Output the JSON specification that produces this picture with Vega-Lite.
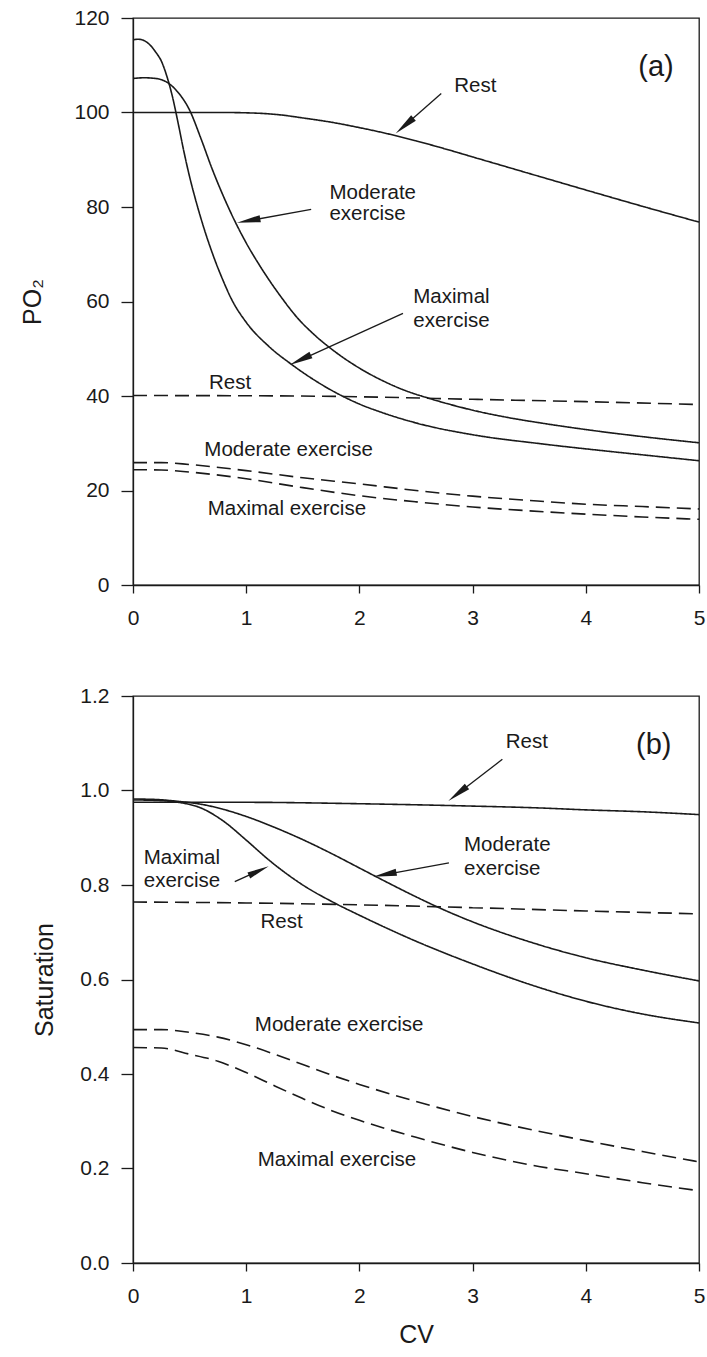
{
  "$schema": "https://vega.github.io/schema/vega-lite/v6.json",
  "background": "white",
  "padding": {"left": 20, "top": 6, "right": 4, "bottom": 4},
  "spacing": 55,
  "config": {
    "font": "Liberation Sans",
    "view": {"stroke": "#1a1a1a", "strokeWidth": 1.3},
    "axis": {
      "domainColor": "#1a1a1a", "tickColor": "#1a1a1a", "labelColor": "#1a1a1a", "titleColor": "#1a1a1a",
      "labelFontSize": 21, "titleFontSize": 25, "titleFontWeight": "normal", "grid": false,
      "domainWidth": 1.3, "tickWidth": 1.3, "labelFont": "Liberation Sans", "titleFont": "Liberation Sans"
    },
    "axisX": {"tickSize": 8, "labelPadding": 14, "labelFlush": false, "titlePadding": 16, "format": "d"},
    "axisY": {"tickSize": 12, "labelPadding": 12, "titlePadding": 22}
  },
  "datasets": {
    "po2": [
      {"cv": 0, "po2": 100, "condition": "Rest", "curve": "A"},
      {"cv": 0.8, "po2": 100, "condition": "Rest", "curve": "A"},
      {"cv": 1.1, "po2": 99.85, "condition": "Rest", "curve": "A"},
      {"cv": 1.3, "po2": 99.5, "condition": "Rest", "curve": "A"},
      {"cv": 1.5, "po2": 98.85, "condition": "Rest", "curve": "A"},
      {"cv": 1.75, "po2": 97.95, "condition": "Rest", "curve": "A"},
      {"cv": 2.0, "po2": 96.8, "condition": "Rest", "curve": "A"},
      {"cv": 2.25, "po2": 95.5, "condition": "Rest", "curve": "A"},
      {"cv": 2.5, "po2": 94.0, "condition": "Rest", "curve": "A"},
      {"cv": 2.75, "po2": 92.35, "condition": "Rest", "curve": "A"},
      {"cv": 3.0, "po2": 90.6, "condition": "Rest", "curve": "A"},
      {"cv": 3.5, "po2": 87.1, "condition": "Rest", "curve": "A"},
      {"cv": 4.0, "po2": 83.6, "condition": "Rest", "curve": "A"},
      {"cv": 4.5, "po2": 80.15, "condition": "Rest", "curve": "A"},
      {"cv": 5.0, "po2": 76.8, "condition": "Rest", "curve": "A"},

      {"cv": 0, "po2": 107.2, "condition": "Moderate exercise", "curve": "A"},
      {"cv": 0.1, "po2": 107.35, "condition": "Moderate exercise", "curve": "A"},
      {"cv": 0.2, "po2": 107.2, "condition": "Moderate exercise", "curve": "A"},
      {"cv": 0.3, "po2": 106.4, "condition": "Moderate exercise", "curve": "A"},
      {"cv": 0.4, "po2": 104.2, "condition": "Moderate exercise", "curve": "A"},
      {"cv": 0.5, "po2": 100.5, "condition": "Moderate exercise", "curve": "A"},
      {"cv": 0.6, "po2": 94.5, "condition": "Moderate exercise", "curve": "A"},
      {"cv": 0.7, "po2": 88.0, "condition": "Moderate exercise", "curve": "A"},
      {"cv": 0.8, "po2": 82.2, "condition": "Moderate exercise", "curve": "A"},
      {"cv": 0.9, "po2": 77.0, "condition": "Moderate exercise", "curve": "A"},
      {"cv": 1.0, "po2": 72.4, "condition": "Moderate exercise", "curve": "A"},
      {"cv": 1.13, "po2": 67.2, "condition": "Moderate exercise", "curve": "A"},
      {"cv": 1.31, "po2": 60.9, "condition": "Moderate exercise", "curve": "A"},
      {"cv": 1.45, "po2": 56.6, "condition": "Moderate exercise", "curve": "A"},
      {"cv": 1.6, "po2": 53.0, "condition": "Moderate exercise", "curve": "A"},
      {"cv": 1.8, "po2": 49.1, "condition": "Moderate exercise", "curve": "A"},
      {"cv": 2.0, "po2": 45.9, "condition": "Moderate exercise", "curve": "A"},
      {"cv": 2.2, "po2": 43.3, "condition": "Moderate exercise", "curve": "A"},
      {"cv": 2.4, "po2": 41.2, "condition": "Moderate exercise", "curve": "A"},
      {"cv": 2.63, "po2": 39.4, "condition": "Moderate exercise", "curve": "A"},
      {"cv": 3.0, "po2": 37.0, "condition": "Moderate exercise", "curve": "A"},
      {"cv": 3.3, "po2": 35.5, "condition": "Moderate exercise", "curve": "A"},
      {"cv": 3.6, "po2": 34.3, "condition": "Moderate exercise", "curve": "A"},
      {"cv": 4.0, "po2": 32.9, "condition": "Moderate exercise", "curve": "A"},
      {"cv": 4.5, "po2": 31.4, "condition": "Moderate exercise", "curve": "A"},
      {"cv": 5.0, "po2": 30.1, "condition": "Moderate exercise", "curve": "A"},

      {"cv": 0, "po2": 115.4, "condition": "Maximal exercise", "curve": "A"},
      {"cv": 0.05, "po2": 115.5, "condition": "Maximal exercise", "curve": "A"},
      {"cv": 0.1, "po2": 115.2, "condition": "Maximal exercise", "curve": "A"},
      {"cv": 0.15, "po2": 114.3, "condition": "Maximal exercise", "curve": "A"},
      {"cv": 0.2, "po2": 112.8, "condition": "Maximal exercise", "curve": "A"},
      {"cv": 0.25, "po2": 110.9, "condition": "Maximal exercise", "curve": "A"},
      {"cv": 0.3, "po2": 107.6, "condition": "Maximal exercise", "curve": "A"},
      {"cv": 0.35, "po2": 103.2, "condition": "Maximal exercise", "curve": "A"},
      {"cv": 0.4, "po2": 97.6, "condition": "Maximal exercise", "curve": "A"},
      {"cv": 0.45, "po2": 91.7, "condition": "Maximal exercise", "curve": "A"},
      {"cv": 0.5, "po2": 86.4, "condition": "Maximal exercise", "curve": "A"},
      {"cv": 0.55, "po2": 81.8, "condition": "Maximal exercise", "curve": "A"},
      {"cv": 0.6, "po2": 77.6, "condition": "Maximal exercise", "curve": "A"},
      {"cv": 0.7, "po2": 70.3, "condition": "Maximal exercise", "curve": "A"},
      {"cv": 0.8, "po2": 64.2, "condition": "Maximal exercise", "curve": "A"},
      {"cv": 0.87, "po2": 60.5, "condition": "Maximal exercise", "curve": "A"},
      {"cv": 1.0, "po2": 55.6, "condition": "Maximal exercise", "curve": "A"},
      {"cv": 1.2, "po2": 50.5, "condition": "Maximal exercise", "curve": "A"},
      {"cv": 1.4, "po2": 46.7, "condition": "Maximal exercise", "curve": "A"},
      {"cv": 1.6, "po2": 43.4, "condition": "Maximal exercise", "curve": "A"},
      {"cv": 1.8, "po2": 40.6, "condition": "Maximal exercise", "curve": "A"},
      {"cv": 2.0, "po2": 38.3, "condition": "Maximal exercise", "curve": "A"},
      {"cv": 2.2, "po2": 36.5, "condition": "Maximal exercise", "curve": "A"},
      {"cv": 2.5, "po2": 34.3, "condition": "Maximal exercise", "curve": "A"},
      {"cv": 3.0, "po2": 31.8, "condition": "Maximal exercise", "curve": "A"},
      {"cv": 3.6, "po2": 29.9, "condition": "Maximal exercise", "curve": "A"},
      {"cv": 4.2, "po2": 28.3, "condition": "Maximal exercise", "curve": "A"},
      {"cv": 4.6, "po2": 27.3, "condition": "Maximal exercise", "curve": "A"},
      {"cv": 5.0, "po2": 26.3, "condition": "Maximal exercise", "curve": "A"},

      {"cv": 0, "po2": 40.1, "condition": "Rest", "curve": "B"},
      {"cv": 1.0, "po2": 40.05, "condition": "Rest", "curve": "B"},
      {"cv": 1.84, "po2": 39.9, "condition": "Rest", "curve": "B"},
      {"cv": 3.0, "po2": 39.3, "condition": "Rest", "curve": "B"},
      {"cv": 4.0, "po2": 38.8, "condition": "Rest", "curve": "B"},
      {"cv": 5.0, "po2": 38.2, "condition": "Rest", "curve": "B"},

      {"cv": 0, "po2": 25.9, "condition": "Moderate exercise", "curve": "B"},
      {"cv": 0.25, "po2": 25.9, "condition": "Moderate exercise", "curve": "B"},
      {"cv": 0.5, "po2": 25.5, "condition": "Moderate exercise", "curve": "B"},
      {"cv": 1.0, "po2": 24.2, "condition": "Moderate exercise", "curve": "B"},
      {"cv": 1.5, "po2": 22.7, "condition": "Moderate exercise", "curve": "B"},
      {"cv": 2.0, "po2": 21.4, "condition": "Moderate exercise", "curve": "B"},
      {"cv": 2.5, "po2": 20.0, "condition": "Moderate exercise", "curve": "B"},
      {"cv": 3.0, "po2": 18.8, "condition": "Moderate exercise", "curve": "B"},
      {"cv": 3.5, "po2": 17.9, "condition": "Moderate exercise", "curve": "B"},
      {"cv": 4.0, "po2": 17.1, "condition": "Moderate exercise", "curve": "B"},
      {"cv": 4.5, "po2": 16.6, "condition": "Moderate exercise", "curve": "B"},
      {"cv": 5.0, "po2": 16.1, "condition": "Moderate exercise", "curve": "B"},

      {"cv": 0, "po2": 24.4, "condition": "Maximal exercise", "curve": "B"},
      {"cv": 0.25, "po2": 24.35, "condition": "Maximal exercise", "curve": "B"},
      {"cv": 0.5, "po2": 23.9, "condition": "Maximal exercise", "curve": "B"},
      {"cv": 1.0, "po2": 22.5, "condition": "Maximal exercise", "curve": "B"},
      {"cv": 1.5, "po2": 20.6, "condition": "Maximal exercise", "curve": "B"},
      {"cv": 2.0, "po2": 18.9, "condition": "Maximal exercise", "curve": "B"},
      {"cv": 2.5, "po2": 17.6, "condition": "Maximal exercise", "curve": "B"},
      {"cv": 3.0, "po2": 16.5, "condition": "Maximal exercise", "curve": "B"},
      {"cv": 3.5, "po2": 15.7, "condition": "Maximal exercise", "curve": "B"},
      {"cv": 4.0, "po2": 15.0, "condition": "Maximal exercise", "curve": "B"},
      {"cv": 4.5, "po2": 14.4, "condition": "Maximal exercise", "curve": "B"},
      {"cv": 5.0, "po2": 13.9, "condition": "Maximal exercise", "curve": "B"}
    ],
    "sat": [
      {"cv": 0, "sat": 0.975, "condition": "Rest", "curve": "A"},
      {"cv": 1.0, "sat": 0.975, "condition": "Rest", "curve": "A"},
      {"cv": 2.0, "sat": 0.972, "condition": "Rest", "curve": "A"},
      {"cv": 3.0, "sat": 0.967, "condition": "Rest", "curve": "A"},
      {"cv": 3.6, "sat": 0.963, "condition": "Rest", "curve": "A"},
      {"cv": 4.0, "sat": 0.959, "condition": "Rest", "curve": "A"},
      {"cv": 4.5, "sat": 0.955, "condition": "Rest", "curve": "A"},
      {"cv": 5.0, "sat": 0.949, "condition": "Rest", "curve": "A"},

      {"cv": 0, "sat": 0.982, "condition": "Moderate exercise", "curve": "A"},
      {"cv": 0.2, "sat": 0.981, "condition": "Moderate exercise", "curve": "A"},
      {"cv": 0.4, "sat": 0.977, "condition": "Moderate exercise", "curve": "A"},
      {"cv": 0.6, "sat": 0.971, "condition": "Moderate exercise", "curve": "A"},
      {"cv": 0.8, "sat": 0.960, "condition": "Moderate exercise", "curve": "A"},
      {"cv": 1.0, "sat": 0.945, "condition": "Moderate exercise", "curve": "A"},
      {"cv": 1.25, "sat": 0.922, "condition": "Moderate exercise", "curve": "A"},
      {"cv": 1.5, "sat": 0.896, "condition": "Moderate exercise", "curve": "A"},
      {"cv": 1.75, "sat": 0.867, "condition": "Moderate exercise", "curve": "A"},
      {"cv": 2.0, "sat": 0.836, "condition": "Moderate exercise", "curve": "A"},
      {"cv": 2.25, "sat": 0.805, "condition": "Moderate exercise", "curve": "A"},
      {"cv": 2.5, "sat": 0.775, "condition": "Moderate exercise", "curve": "A"},
      {"cv": 2.75, "sat": 0.747, "condition": "Moderate exercise", "curve": "A"},
      {"cv": 3.0, "sat": 0.722, "condition": "Moderate exercise", "curve": "A"},
      {"cv": 3.5, "sat": 0.680, "condition": "Moderate exercise", "curve": "A"},
      {"cv": 4.0, "sat": 0.646, "condition": "Moderate exercise", "curve": "A"},
      {"cv": 4.5, "sat": 0.620, "condition": "Moderate exercise", "curve": "A"},
      {"cv": 5.0, "sat": 0.597, "condition": "Moderate exercise", "curve": "A"},

      {"cv": 0, "sat": 0.980, "condition": "Maximal exercise", "curve": "A"},
      {"cv": 0.2, "sat": 0.979, "condition": "Maximal exercise", "curve": "A"},
      {"cv": 0.4, "sat": 0.975, "condition": "Maximal exercise", "curve": "A"},
      {"cv": 0.6, "sat": 0.963, "condition": "Maximal exercise", "curve": "A"},
      {"cv": 0.8, "sat": 0.935, "condition": "Maximal exercise", "curve": "A"},
      {"cv": 1.0, "sat": 0.895, "condition": "Maximal exercise", "curve": "A"},
      {"cv": 1.2, "sat": 0.853, "condition": "Maximal exercise", "curve": "A"},
      {"cv": 1.5, "sat": 0.800, "condition": "Maximal exercise", "curve": "A"},
      {"cv": 1.78, "sat": 0.762, "condition": "Maximal exercise", "curve": "A"},
      {"cv": 2.0, "sat": 0.736, "condition": "Maximal exercise", "curve": "A"},
      {"cv": 2.5, "sat": 0.681, "condition": "Maximal exercise", "curve": "A"},
      {"cv": 3.0, "sat": 0.633, "condition": "Maximal exercise", "curve": "A"},
      {"cv": 3.5, "sat": 0.590, "condition": "Maximal exercise", "curve": "A"},
      {"cv": 4.0, "sat": 0.554, "condition": "Maximal exercise", "curve": "A"},
      {"cv": 4.5, "sat": 0.527, "condition": "Maximal exercise", "curve": "A"},
      {"cv": 5.0, "sat": 0.508, "condition": "Maximal exercise", "curve": "A"},

      {"cv": 0, "sat": 0.764, "condition": "Rest", "curve": "B"},
      {"cv": 1.0, "sat": 0.762, "condition": "Rest", "curve": "B"},
      {"cv": 2.0, "sat": 0.758, "condition": "Rest", "curve": "B"},
      {"cv": 3.0, "sat": 0.752, "condition": "Rest", "curve": "B"},
      {"cv": 4.0, "sat": 0.745, "condition": "Rest", "curve": "B"},
      {"cv": 5.0, "sat": 0.739, "condition": "Rest", "curve": "B"},

      {"cv": 0, "sat": 0.494, "condition": "Moderate exercise", "curve": "B"},
      {"cv": 0.25, "sat": 0.494, "condition": "Moderate exercise", "curve": "B"},
      {"cv": 0.5, "sat": 0.488, "condition": "Moderate exercise", "curve": "B"},
      {"cv": 0.75, "sat": 0.478, "condition": "Moderate exercise", "curve": "B"},
      {"cv": 1.0, "sat": 0.462, "condition": "Moderate exercise", "curve": "B"},
      {"cv": 1.25, "sat": 0.442, "condition": "Moderate exercise", "curve": "B"},
      {"cv": 1.5, "sat": 0.420, "condition": "Moderate exercise", "curve": "B"},
      {"cv": 1.75, "sat": 0.398, "condition": "Moderate exercise", "curve": "B"},
      {"cv": 2.0, "sat": 0.378, "condition": "Moderate exercise", "curve": "B"},
      {"cv": 2.5, "sat": 0.342, "condition": "Moderate exercise", "curve": "B"},
      {"cv": 3.0, "sat": 0.310, "condition": "Moderate exercise", "curve": "B"},
      {"cv": 3.5, "sat": 0.283, "condition": "Moderate exercise", "curve": "B"},
      {"cv": 4.0, "sat": 0.259, "condition": "Moderate exercise", "curve": "B"},
      {"cv": 4.5, "sat": 0.236, "condition": "Moderate exercise", "curve": "B"},
      {"cv": 5.0, "sat": 0.214, "condition": "Moderate exercise", "curve": "B"},

      {"cv": 0, "sat": 0.456, "condition": "Maximal exercise", "curve": "B"},
      {"cv": 0.25, "sat": 0.455, "condition": "Maximal exercise", "curve": "B"},
      {"cv": 0.5, "sat": 0.442, "condition": "Maximal exercise", "curve": "B"},
      {"cv": 0.75, "sat": 0.427, "condition": "Maximal exercise", "curve": "B"},
      {"cv": 1.0, "sat": 0.403, "condition": "Maximal exercise", "curve": "B"},
      {"cv": 1.25, "sat": 0.375, "condition": "Maximal exercise", "curve": "B"},
      {"cv": 1.5, "sat": 0.348, "condition": "Maximal exercise", "curve": "B"},
      {"cv": 1.75, "sat": 0.323, "condition": "Maximal exercise", "curve": "B"},
      {"cv": 2.0, "sat": 0.302, "condition": "Maximal exercise", "curve": "B"},
      {"cv": 2.5, "sat": 0.266, "condition": "Maximal exercise", "curve": "B"},
      {"cv": 3.0, "sat": 0.234, "condition": "Maximal exercise", "curve": "B"},
      {"cv": 3.5, "sat": 0.208, "condition": "Maximal exercise", "curve": "B"},
      {"cv": 4.0, "sat": 0.189, "condition": "Maximal exercise", "curve": "B"},
      {"cv": 4.5, "sat": 0.170, "condition": "Maximal exercise", "curve": "B"},
      {"cv": 5.0, "sat": 0.153, "condition": "Maximal exercise", "curve": "B"}
    ],
    "arrows_a": [
      {"arrow": "Rest", "xt": 2.723, "yt": 104.0, "xh": 2.399, "yh": 97.2},
      {"arrow": "Moderate", "xt": 1.574, "yt": 79.5, "xh": 1.021, "yh": 77.1},
      {"arrow": "Maximal", "xt": 2.385, "yt": 57.5, "xh": 1.477, "yh": 47.6}
    ],
    "arrows_b": [
      {"arrow": "Rest", "xt": 3.263, "yt": 1.066, "xh": 2.868, "yh": 0.993},
      {"arrow": "Moderate", "xt": 2.791, "yt": 0.847, "xh": 2.224, "yh": 0.822},
      {"arrow": "Maximal", "xt": 0.899, "yt": 0.807, "xh": 1.111, "yh": 0.830}
    ],
    "labels_a": [
      {"label": "Rest", "x": 2.838, "y": 104.4},
      {"label": "Moderate", "x": 1.735, "y": 81.7},
      {"label": "exercise", "x": 1.735, "y": 77.2},
      {"label": "Maximal", "x": 2.476, "y": 59.7},
      {"label": "exercise", "x": 2.476, "y": 54.5},
      {"label": "Rest", "x": 0.672, "y": 41.4},
      {"label": "Moderate exercise", "x": 0.630, "y": 27.3},
      {"label": "Maximal exercise", "x": 0.660, "y": 14.9}
    ],
    "labels_b": [
      {"label": "Rest", "x": 3.293, "y": 1.089},
      {"label": "Moderate", "x": 2.924, "y": 0.872},
      {"label": "exercise", "x": 2.924, "y": 0.822},
      {"label": "Maximal", "x": 0.095, "y": 0.845},
      {"label": "exercise", "x": 0.095, "y": 0.796},
      {"label": "Rest", "x": 1.126, "y": 0.709},
      {"label": "Moderate exercise", "x": 1.076, "y": 0.491},
      {"label": "Maximal exercise", "x": 1.102, "y": 0.205}
    ],
    "panel_a": [{"label": "(a)", "x": 4.62, "y": 109.7}],
    "panel_b": [{"label": "(b)", "x": 4.60, "y": 1.096}]
  },
  "vconcat": [
    {
      "width": 566,
      "height": 567,
      "layer": [
        {
          "data": {"name": "po2"},
          "mark": {"type": "line", "interpolate": "monotone", "strokeWidth": 1.6, "color": "#1a1a1a"},
          "encoding": {
            "x": {"field": "cv", "type": "quantitative", "title": null, "scale": {"domain": [0, 5], "nice": false}, "axis": {"values": [0, 1, 2, 3, 4, 5]}},
            "y": {"field": "po2", "type": "quantitative", "title": "PO₂", "scale": {"domain": [0, 120], "nice": false}, "axis": {"values": [0, 20, 40, 60, 80, 100, 120], "titlePadding": 28}},
            "strokeDash": {"field": "curve", "type": "nominal", "scale": {"domain": ["A", "B"], "range": [[1, 0], [14, 7]]}, "legend": null},
            "detail": {"field": "condition", "type": "nominal"}
          }
        },
        {
          "data": {"name": "arrows_a"},
          "mark": {"type": "rule", "color": "#1a1a1a", "strokeWidth": 1.3},
          "encoding": {
            "x": {"field": "xt", "type": "quantitative", "title": null},
            "y": {"field": "yt", "type": "quantitative", "title": "PO₂"},
            "x2": {"field": "xh"},
            "y2": {"field": "yh"}
          }
        },
        {
          "data": {"name": "arrows_a"},
          "transform": [{"filter": "datum.arrow === 'Rest'"}],
          "mark": {"type": "point", "shape": "M0,-1L0.3,1L-0.3,1Z", "filled": true, "opacity": 1, "color": "#1a1a1a", "size": 560, "angle": 229},
          "encoding": {
            "x": {"field": "xh", "type": "quantitative", "title": null},
            "y": {"field": "yh", "type": "quantitative", "title": "PO₂"}
          }
        },
        {
          "data": {"name": "arrows_a"},
          "transform": [{"filter": "datum.arrow === 'Moderate'"}],
          "mark": {"type": "point", "shape": "M0,-1L0.3,1L-0.3,1Z", "filled": true, "opacity": 1, "color": "#1a1a1a", "size": 560, "angle": 260},
          "encoding": {
            "x": {"field": "xh", "type": "quantitative", "title": null},
            "y": {"field": "yh", "type": "quantitative", "title": "PO₂"}
          }
        },
        {
          "data": {"name": "arrows_a"},
          "transform": [{"filter": "datum.arrow === 'Maximal'"}],
          "mark": {"type": "point", "shape": "M0,-1L0.3,1L-0.3,1Z", "filled": true, "opacity": 1, "color": "#1a1a1a", "size": 560, "angle": 245},
          "encoding": {
            "x": {"field": "xh", "type": "quantitative", "title": null},
            "y": {"field": "yh", "type": "quantitative", "title": "PO₂"}
          }
        },
        {
          "data": {"name": "labels_a"},
          "mark": {"type": "text", "align": "left", "baseline": "alphabetic", "fontSize": 20.5, "color": "#1a1a1a"},
          "encoding": {
            "x": {"field": "x", "type": "quantitative", "title": null},
            "y": {"field": "y", "type": "quantitative", "title": "PO₂"},
            "text": {"field": "label"}
          }
        },
        {
          "data": {"name": "panel_a"},
          "mark": {"type": "text", "align": "center", "baseline": "middle", "fontSize": 29, "color": "#1a1a1a"},
          "encoding": {
            "x": {"field": "x", "type": "quantitative", "title": null},
            "y": {"field": "y", "type": "quantitative", "title": "PO₂"},
            "text": {"field": "label"}
          }
        }
      ]
    },
    {
      "width": 566,
      "height": 567,
      "layer": [
        {
          "data": {"name": "sat"},
          "mark": {"type": "line", "interpolate": "monotone", "strokeWidth": 1.6, "color": "#1a1a1a"},
          "encoding": {
            "x": {"field": "cv", "type": "quantitative", "title": "CV", "scale": {"domain": [0, 5], "nice": false}, "axis": {"values": [0, 1, 2, 3, 4, 5]}},
            "y": {"field": "sat", "type": "quantitative", "title": "Saturation", "scale": {"domain": [0, 1.2], "nice": false}, "axis": {"values": [0, 0.2, 0.4, 0.6, 0.8, 1.0, 1.2], "format": ".1f", "titlePadding": 22}},
            "strokeDash": {"field": "curve", "type": "nominal", "scale": {"domain": ["A", "B"], "range": [[1, 0], [14, 7]]}, "legend": null},
            "detail": {"field": "condition", "type": "nominal"}
          }
        },
        {
          "data": {"name": "arrows_b"},
          "mark": {"type": "rule", "color": "#1a1a1a", "strokeWidth": 1.3},
          "encoding": {
            "x": {"field": "xt", "type": "quantitative", "title": "CV"},
            "y": {"field": "yt", "type": "quantitative", "title": "Saturation"},
            "x2": {"field": "xh"},
            "y2": {"field": "yh"}
          }
        },
        {
          "data": {"name": "arrows_b"},
          "transform": [{"filter": "datum.arrow === 'Rest'"}],
          "mark": {"type": "point", "shape": "M0,-1L0.3,1L-0.3,1Z", "filled": true, "opacity": 1, "color": "#1a1a1a", "size": 560, "angle": 232},
          "encoding": {
            "x": {"field": "xh", "type": "quantitative", "title": "CV"},
            "y": {"field": "yh", "type": "quantitative", "title": "Saturation"}
          }
        },
        {
          "data": {"name": "arrows_b"},
          "transform": [{"filter": "datum.arrow === 'Moderate'"}],
          "mark": {"type": "point", "shape": "M0,-1L0.3,1L-0.3,1Z", "filled": true, "opacity": 1, "color": "#1a1a1a", "size": 560, "angle": 259},
          "encoding": {
            "x": {"field": "xh", "type": "quantitative", "title": "CV"},
            "y": {"field": "yh", "type": "quantitative", "title": "Saturation"}
          }
        },
        {
          "data": {"name": "arrows_b"},
          "transform": [{"filter": "datum.arrow === 'Maximal'"}],
          "mark": {"type": "point", "shape": "M0,-1L0.3,1L-0.3,1Z", "filled": true, "opacity": 1, "color": "#1a1a1a", "size": 480, "angle": 65},
          "encoding": {
            "x": {"field": "xh", "type": "quantitative", "title": "CV"},
            "y": {"field": "yh", "type": "quantitative", "title": "Saturation"}
          }
        },
        {
          "data": {"name": "labels_b"},
          "mark": {"type": "text", "align": "left", "baseline": "alphabetic", "fontSize": 20.5, "color": "#1a1a1a"},
          "encoding": {
            "x": {"field": "x", "type": "quantitative", "title": "CV"},
            "y": {"field": "y", "type": "quantitative", "title": "Saturation"},
            "text": {"field": "label"}
          }
        },
        {
          "data": {"name": "panel_b"},
          "mark": {"type": "text", "align": "center", "baseline": "middle", "fontSize": 29, "color": "#1a1a1a"},
          "encoding": {
            "x": {"field": "x", "type": "quantitative", "title": "CV"},
            "y": {"field": "y", "type": "quantitative", "title": "Saturation"},
            "text": {"field": "label"}
          }
        }
      ]
    }
  ]
}
